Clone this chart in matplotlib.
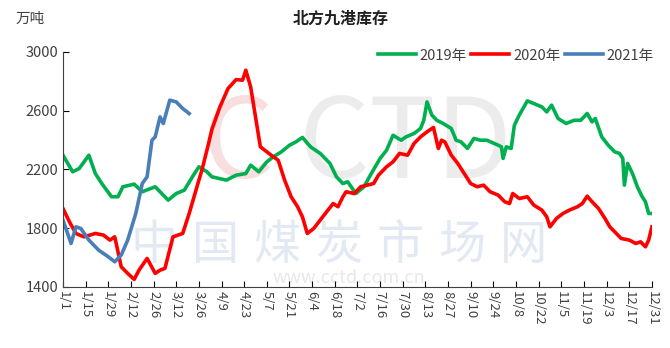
import matplotlib
matplotlib.use("Agg")
import matplotlib.pyplot as plt

plt.rcParams['font.family'] = ['Noto Sans CJK SC', 'DejaVu Sans']

# --- データ（1/1からの日数, 万吨） ---
days_2019 = [0, 6, 10, 16, 20, 24, 30, 34, 37, 44, 49, 57, 65, 70, 75, 80, 84, 89, 92, 101,
             107, 113, 116, 121, 126, 130, 135, 140, 144, 148, 153, 159, 165, 169, 173, 176,
             181, 186, 190, 196, 200, 204, 209, 212, 217, 221, 223, 225, 228, 231, 235, 240,
             243, 246, 250, 254, 258, 262, 269, 271, 272, 274, 277, 279, 282, 287, 291, 296,
             299, 302, 306, 311, 316, 320, 324, 327, 329, 333, 337, 341, 344, 346, 347, 349,
             352, 355, 358, 360, 362, 364]
vals_2019 = [2296, 2183, 2205, 2296, 2171, 2103, 2013, 2013, 2081, 2099, 2047, 2081, 1990, 2035,
             2058, 2149, 2217, 2183, 2149, 2126, 2160, 2171, 2228, 2183, 2251, 2285, 2319, 2364,
             2387, 2417, 2353, 2308, 2240, 2149, 2103, 2115, 2035, 2081, 2160, 2274, 2330, 2432,
             2398, 2421, 2444, 2478, 2534, 2659, 2569, 2534, 2512, 2478, 2398, 2387, 2342, 2410,
             2398, 2398, 2364, 2353, 2274, 2353, 2342, 2500, 2569, 2666, 2648, 2625, 2591, 2637,
             2546, 2512, 2534, 2534, 2580, 2523, 2546, 2421, 2364, 2319, 2308, 2274, 2092, 2240,
             2171, 2081, 2013, 1979, 1899, 1899]

days_2020 = [0, 4, 8, 13, 20, 25, 29, 32, 36, 40, 44, 47, 52, 57, 60, 63, 68, 74, 78, 84, 86,
             90, 92, 97, 102, 107, 111, 113, 116, 119, 122, 126, 130, 133, 137, 141, 145, 148,
             151, 155, 159, 163, 167, 170, 173, 175, 180, 184, 188, 192, 195, 200, 204, 208,
             213, 217, 221, 225, 229, 232, 234, 236, 240, 244, 248, 252, 256, 260, 264, 269,
             273, 276, 278, 282, 287, 291, 296, 299, 301, 305, 309, 313, 318, 321, 324, 327,
             331, 335, 338, 341, 345, 350, 354, 357, 360, 362, 364]
vals_2020 = [1933, 1842, 1763, 1740, 1763, 1752, 1718, 1740, 1536, 1491, 1450, 1513, 1593, 1491,
             1513, 1525, 1740, 1763, 1899, 2126, 2200, 2376, 2470, 2625, 2750, 2811, 2807, 2875,
             2761, 2557, 2353, 2319, 2285, 2262, 2126, 2013, 1945, 1876, 1763, 1797, 1854, 1911,
             1967, 1945, 2013, 2047, 2035, 2081, 2092, 2103, 2160, 2217, 2251, 2308, 2296, 2376,
             2421, 2455, 2485, 2342, 2398, 2387, 2296, 2240, 2171, 2103, 2081, 2092, 2047, 2024,
             1979, 1967, 2035, 2001, 2013, 1956, 1922, 1876, 1808, 1865, 1899, 1922, 1945, 1967,
             2017, 1979, 1933, 1865, 1808, 1774, 1729, 1718, 1695, 1706, 1672, 1718, 1808]

days_2021 = [0, 5, 8, 11, 16, 22, 28, 32, 36, 40, 45, 49, 52, 55, 57, 60, 62, 66, 70, 74, 78]
vals_2021 = [1854, 1695, 1808, 1797, 1718, 1650, 1604, 1570, 1616, 1718, 1899, 2103, 2149, 2398,
             2421, 2557, 2512, 2671, 2659, 2614, 2580]

tick_days = list(range(0, 365, 14))
tick_labels = ["1/1", "1/15", "1/29", "2/12", "2/26", "3/12", "3/26", "4/9", "4/23", "5/7",
               "5/21", "6/4", "6/18", "7/2", "7/16", "7/30", "8/13", "8/27", "9/10", "9/24",
               "10/8", "10/22", "11/5", "11/19", "12/3", "12/17", "12/31"]

# --- 描画 ---
fig = plt.figure(figsize=(6.7, 3.48), dpi=100)
ax = fig.add_axes([0.094, 0.176, 0.879, 0.675])
ax.set_zorder(5)

# 透かし（背景ロゴ風）
fig.text(0.355, 0.58, "C", fontsize=80, color="#f8dede", ha="center", va="center", zorder=0)
fig.text(0.605, 0.58, "CTD", fontsize=80, color="#ececec", ha="center", va="center", zorder=0)
wm = "中国煤炭市场网"
for i, ch in enumerate(wm):
    fig.text(0.23 + i * 0.092, 0.295, ch, fontsize=34, color="#e2e9f3", ha="center",
             va="center", zorder=0)
fig.text(0.52, 0.2, "www.cctd.com.cn", fontsize=13, color="#e8e8e8", ha="center",
         va="center", zorder=0)

ax.patch.set_alpha(0)
ax.plot(days_2019, vals_2019, color="#00B050", lw=2.6, label="2019年")
ax.plot(days_2020, vals_2020, color="#FF0000", lw=2.6, label="2020年")
ax.plot(days_2021, vals_2021, color="#4A7EBB", lw=2.6, label="2021年")

ax.set_xlim(0, 364)
ax.set_ylim(1400, 3000)
ax.set_yticks([1400, 1800, 2200, 2600, 3000])
ax.set_xticks(tick_days)
ax.set_xticklabels(tick_labels, rotation=270, fontsize=9.5, color="#404040")
ax.tick_params(axis="y", labelsize=10.5, labelcolor="#404040", direction="in", length=4)
ax.tick_params(axis="x", direction="in", length=4, pad=3)
for s in ["top", "right"]:
    ax.spines[s].set_visible(False)
ax.spines["left"].set_color("#404040")
ax.spines["bottom"].set_color("#404040")

ax.legend(loc="upper right", bbox_to_anchor=(1.025, 1.07), ncol=3, frameon=False,
          fontsize=10.5, handlelength=2.6, handletextpad=0.25, columnspacing=0.3,
          labelcolor="#404040")

fig.text(0.508, 0.945, "北方九港库存", fontsize=11.5, fontweight="bold", ha="center",
         va="center", color="#202020")
fig.text(0.045, 0.945, "万吨", fontsize=10.5, ha="center", va="center", color="#404040")

fig.savefig("out.png", dpi=100)
